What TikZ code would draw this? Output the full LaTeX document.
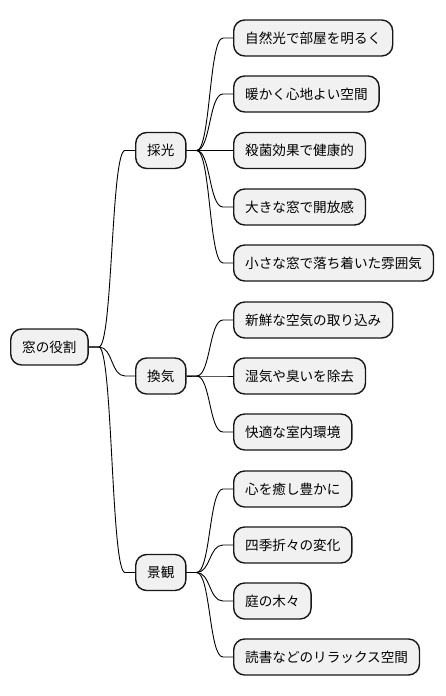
\documentclass[tikz,border=0pt]{standalone}
\usepackage{fontspec}
\setmainfont{Noto Sans CJK JP}
\usetikzlibrary{calc}
\definecolor{boxfill}{HTML}{F1F1F1}
\definecolor{boxline}{HTML}{181818}
\tikzset{
  mmbox/.style={draw=boxline, fill=boxfill, line width=1.4pt, rounded corners=11pt,
    minimum height=36pt, inner xsep=11.5pt, inner ysep=0pt, anchor=west,
    font=\fontsize{13.6}{16}\selectfont, text=black},
  link/.style={draw=black, line width=0.9pt},
}
\newcommand{\mmlink}[2]{%
  \draw[link] (#1.east) -- ($(#1.east)+(10,0)$)
    .. controls ($(#1.east)+(24,0)$) and ($(#2.west)+(-24,0)$) .. ($(#2.west)+(-10,0)$)
    -- (#2.west);}
\begin{document}
\begin{tikzpicture}[x=1pt,y=-1pt]
\useasboundingbox (0,0) rectangle (446,696);
\node[mmbox] (root) at (10,347) {窓の役割};
\node[mmbox] (a) at (135,150.5) {採光};
\node[mmbox] (b) at (135,376) {換気};
\node[mmbox] (c) at (135,572.5) {景観};
\node[mmbox] (a1) at (233,38) {自然光で部屋を明るく};
\node[mmbox] (a2) at (233,94) {暖かく心地よい空間};
\node[mmbox] (a3) at (233,150.5) {殺菌効果で健康的};
\node[mmbox] (a4) at (233,207) {大きな窓で開放感};
\node[mmbox] (a5) at (233,263) {小さな窓で落ち着いた雰囲気};
\node[mmbox] (b1) at (233,320) {新鮮な空気の取り込み};
\node[mmbox] (b2) at (233,376) {湿気や臭いを除去};
\node[mmbox] (b3) at (233,432) {快適な室内環境};
\node[mmbox] (c1) at (233,489) {心を癒し豊かに};
\node[mmbox] (c2) at (233,545) {四季折々の変化};
\node[mmbox] (c3) at (233,601) {庭の木々};
\node[mmbox] (c4) at (233,657) {読書などのリラックス空間};
\mmlink{root}{a}
\mmlink{root}{b}
\mmlink{root}{c}
\mmlink{a}{a1}
\mmlink{a}{a2}
\mmlink{a}{a3}
\mmlink{a}{a4}
\mmlink{a}{a5}
\mmlink{b}{b1}
\mmlink{b}{b2}
\mmlink{b}{b3}
\mmlink{c}{c1}
\mmlink{c}{c2}
\mmlink{c}{c3}
\mmlink{c}{c4}
\end{tikzpicture}
\end{document}
